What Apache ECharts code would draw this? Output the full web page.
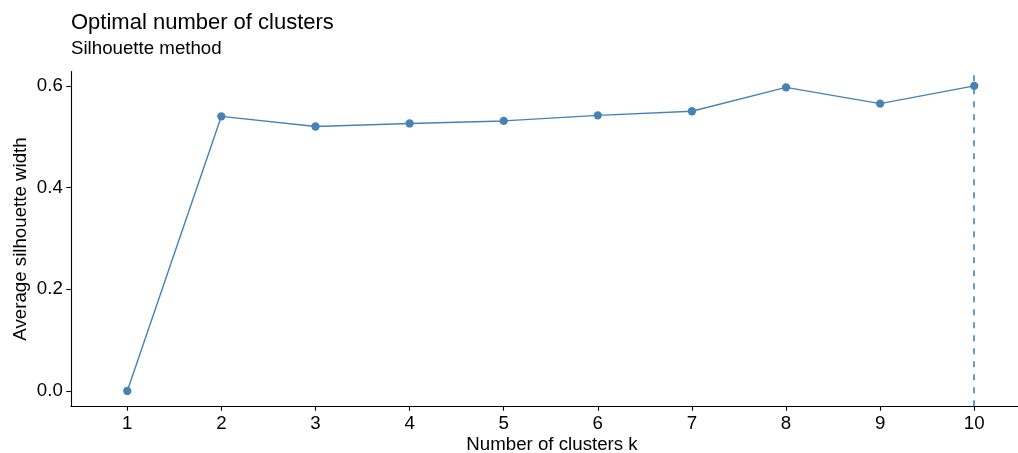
<!DOCTYPE html>
<html>
<head>
<meta charset="utf-8">
<script src="https://cdn.jsdelivr.net/npm/echarts@6/dist/echarts.min.js"></script>
<style>
html,body{margin:0;padding:0;background:#fff;}
#c{width:1018px;height:453px;}
</style>
</head>
<body>
<div id="c"></div>
<script>
var clusters = [1, 2, 3, 4, 5, 6, 7, 8, 9, 10];
var silhouette = [0.000, 0.540, 0.520, 0.526, 0.531, 0.542, 0.550, 0.597, 0.565, 0.600];
var yTicks = [0, 0.2, 0.4, 0.6];
var optimalK = 10;

var FONT = '"Liberation Sans", Arial, Helvetica, sans-serif';
var COLOR = '#4682B4';

var chart = echarts.init(document.getElementById('c'), null, {renderer: 'canvas'});
var points = clusters.map(function (k, i) { return [k, silhouette[i]]; });

chart.setOption({
  animation: false,
  backgroundColor: '#fff',
  title: [
    {text: 'Optimal number of clusters', left: 71, top: 11.5, padding: 0,
     textStyle: {fontFamily: FONT, fontSize: 22, fontWeight: 'normal', color: '#000'}},
    {text: 'Silhouette method', left: 71, top: 39.7, padding: 0,
     textStyle: {fontFamily: FONT, fontSize: 18.7, fontWeight: 'normal', color: '#000'}}
  ],
  grid: {left: 70.8, top: 71.6, right: 0, height: 334.6, containLabel: false},
  xAxis: {
    type: 'value', min: 0.4, max: 10.465,
    splitLine: {show: false},
    axisLine: {show: true, onZero: false, lineStyle: {color: '#000', width: 1.1}},
    axisTick: {show: true, length: 4.5, lineStyle: {color: '#000', width: 1.1}, customValues: clusters},
    axisLabel: {show: true, margin: 8, fontFamily: FONT, fontSize: 18.7, color: '#000',
      customValues: clusters, formatter: function (v) { return String(v); }},
    minorTick: {show: false}
  },
  yAxis: {
    type: 'value', min: -0.03, max: 0.628,
    splitLine: {show: false},
    axisLine: {show: true, onZero: false, lineStyle: {color: '#000', width: 1.1}},
    axisTick: {show: true, length: 4.5, lineStyle: {color: '#000', width: 1.1}, customValues: yTicks},
    axisLabel: {show: true, margin: 8, fontFamily: FONT, fontSize: 18.7, color: '#000',
      customValues: yTicks, formatter: function (v) { return v.toFixed(1); }}
  },
  graphic: [
    {type: 'text', x: 552, y: 435.5, style: {text: 'Number of clusters k', font: '18.7px ' + FONT,
      fill: '#000', align: 'center', verticalAlign: 'top'}},
    {type: 'text', x: 21, y: 239, rotation: Math.PI / 2, style: {text: 'Average silhouette width',
      font: '18.7px ' + FONT, fill: '#000', align: 'center', verticalAlign: 'middle'}}
  ],
  series: [{
    type: 'line',
    data: points,
    symbol: 'circle',
    symbolSize: 8.3,
    showSymbol: true,
    clip: false,
    lineStyle: {color: COLOR, width: 1.4},
    itemStyle: {color: COLOR},
    z: 3,
    markLine: {
      silent: true,
      symbol: ['none', 'none'],
      label: {show: false},
      lineStyle: {color: COLOR, width: 1.6, type: [6, 7]},
      data: [{xAxis: optimalK}],
      z: 2
    }
  }]
});
</script>
</body>
</html>
